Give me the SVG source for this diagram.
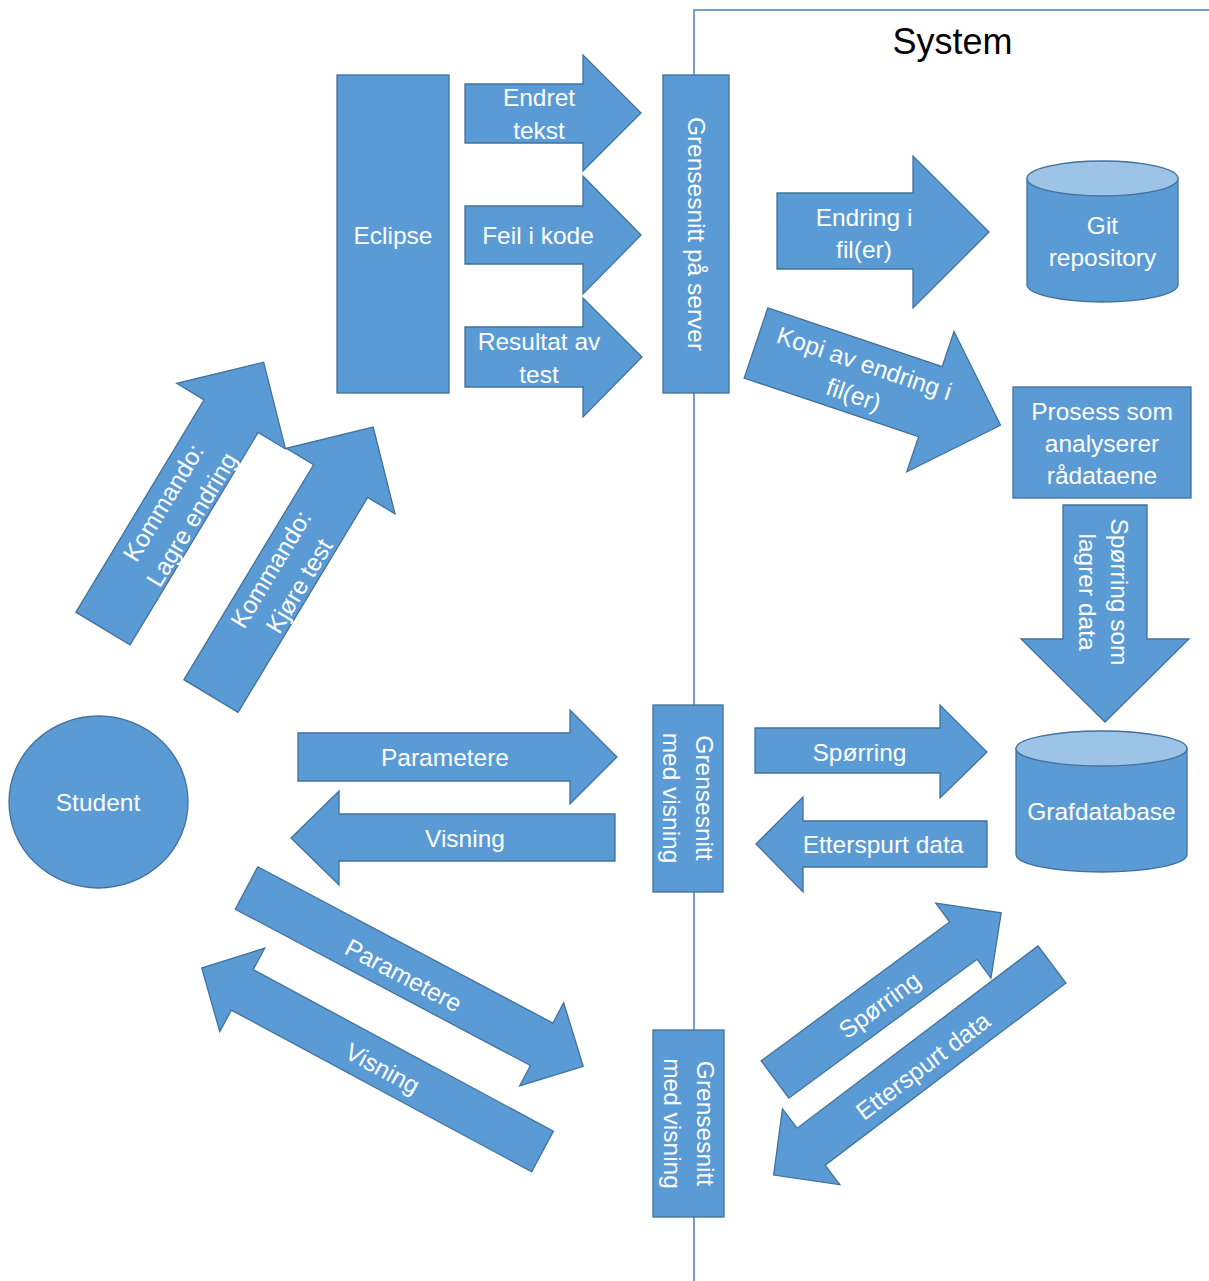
<svg xmlns="http://www.w3.org/2000/svg" width="1209" height="1281" viewBox="0 0 1209 1281">
  <style>
    .shape { fill: #5B9BD5; stroke: #41719C; stroke-width: 1.3; }
    .lid { fill: #9DC3E6; stroke: #41719C; stroke-width: 1.3; }
    .lbl { fill: #FFFFFF; font-family: "Liberation Sans", Arial, sans-serif; font-size: 24.5px; text-anchor: middle; }
    .title { fill: #000000; font-family: "Liberation Sans", Arial, sans-serif; font-size: 36px; text-anchor: middle; }
    .border { fill: none; stroke: #4A7EBB; stroke-width: 1.5; }
  </style>

  <!-- system boundary -->
  <g id="system-boundary">
    <polyline class="border" points="1209,10 694,10 694,1281"/>
    <text class="title" x="952.5" y="54">System</text>
  </g>

  <!-- flow arrows -->
  <g id="connectors">
    <!-- commands from student to Eclipse -->
    <g id="arrow-lagre" transform="translate(103,628.5) rotate(-58.9)">
      <path class="shape" d="M0,-31.6 L248,-31.6 L248,-63.5 L311,0 L248,63.5 L248,31.6 L0,31.6 Z"/>
    </g>
    <g transform="translate(177.5,511) rotate(-58.9)">
      <text class="lbl" x="0" y="-8">Kommando:</text>
      <text class="lbl" x="0" y="25">Lagre endring</text>
    </g>
    <g id="arrow-kjore" transform="translate(211,696) rotate(-58.9)">
      <path class="shape" d="M0,-31.6 L251,-31.6 L251,-63.5 L314,0 L251,63.5 L251,31.6 L0,31.6 Z"/>
    </g>
    <g transform="translate(285,577.5) rotate(-58.9)">
      <text class="lbl" x="0" y="-8">Kommando:</text>
      <text class="lbl" x="0" y="25">Kjøre test</text>
    </g>

    <!-- Eclipse to server interface -->
    <g id="arrow-endret">
      <path class="shape" d="M465,84 L583,84 L583,55 L641,113 L583,171 L583,143 L465,143 Z"/>
      <text class="lbl" x="539" y="106">Endret</text>
      <text class="lbl" x="539" y="139">tekst</text>
    </g>
    <g id="arrow-feil">
      <path class="shape" d="M465,206 L583,206 L583,176 L641,235 L583,294 L583,264 L465,264 Z"/>
      <text class="lbl" x="538" y="244">Feil i kode</text>
    </g>
    <g id="arrow-resultat">
      <path class="shape" d="M465,327 L583,327 L583,298 L642,357 L583,417 L583,387 L465,387 Z"/>
      <text class="lbl" x="539" y="350">Resultat av</text>
      <text class="lbl" x="539" y="383">test</text>
    </g>

    <!-- server interface to repository and analysis -->
    <g id="arrow-endring">
      <path class="shape" d="M777,193 L913,193 L913,156 L989,232 L913,308 L913,269 L777,269 Z"/>
      <text class="lbl" x="864" y="226">Endring i</text>
      <text class="lbl" x="864" y="258">fil(er)</text>
    </g>
    <g id="arrow-kopi" transform="translate(756,343) rotate(18.6)">
      <path class="shape" d="M0,-37 L184,-37 L184,-74 L258,0 L184,74 L184,37 L0,37 Z"/>
    </g>
    <g transform="translate(859,379) rotate(18.6)">
      <text class="lbl" x="0" y="-8">Kopi av endring i</text>
      <text class="lbl" x="0" y="25">fil(er)</text>
    </g>

    <!-- analysis to graph database -->
    <g id="arrow-lagrer">
      <path class="shape" d="M1063,505 L1147,505 L1147,639 L1189,639 L1105,722 L1021,639 L1063,639 Z"/>
      <g transform="translate(1103,592) rotate(90)">
        <text class="lbl" x="0" y="-8">Spørring som</text>
        <text class="lbl" x="0" y="24">lagrer data</text>
      </g>
    </g>

    <!-- student and middle interface -->
    <g id="arrow-parametere-1">
      <path class="shape" d="M298,733 L570,733 L570,710 L617,757 L570,804 L570,781 L298,781 Z"/>
      <text class="lbl" x="445" y="766">Parametere</text>
    </g>
    <g id="arrow-visning-1">
      <path class="shape" d="M615,814 L339,814 L339,791 L291,838 L339,885 L339,861 L615,861 Z"/>
      <text class="lbl" x="465" y="847">Visning</text>
    </g>

    <!-- middle interface and graph database -->
    <g id="arrow-sporring-1">
      <path class="shape" d="M755,728 L940,728 L940,705 L987,752 L940,798 L940,773 L755,773 Z"/>
      <text class="lbl" x="859.5" y="761">Spørring</text>
    </g>
    <g id="arrow-etterspurt-1">
      <path class="shape" d="M987,821 L803,821 L803,797 L756,844 L803,892 L803,867 L987,867 Z"/>
      <text class="lbl" x="883" y="853">Etterspurt data</text>
    </g>

    <!-- student and lower interface -->
    <g id="arrow-parametere-2" transform="translate(246.5,888) rotate(27.9)">
      <path class="shape" d="M0,-24 L334,-24 L334,-47 L381,0 L334,47 L334,24 L0,24 Z"/>
    </g>
    <g transform="translate(403.5,975.5) rotate(27.9)">
      <text class="lbl" x="0" y="8.5">Parametere</text>
    </g>
    <g id="arrow-visning-2" transform="translate(542.5,1151.5) rotate(208.3)">
      <path class="shape" d="M0,-23 L341,-23 L341,-47.4 L387,0 L341,47.4 L341,23 L0,23 Z"/>
    </g>
    <g transform="translate(382.5,1068.5) rotate(28.3)">
      <text class="lbl" x="0" y="8.5">Visning</text>
    </g>

    <!-- lower interface and graph database -->
    <g id="arrow-sporring-2" transform="translate(775,1079.5) rotate(-36.4)">
      <path class="shape" d="M0,-23.2 L234,-23.2 L234,-46.5 L281,0 L234,46.5 L234,23.2 L0,23.2 Z"/>
    </g>
    <g transform="translate(879.5,1005) rotate(-36.4)">
      <text class="lbl" x="0" y="8.5">Spørring</text>
    </g>
    <g id="arrow-etterspurt-2" transform="translate(1052,964.5) rotate(142.9)">
      <path class="shape" d="M0,-23.2 L302,-23.2 L302,-47.5 L349,0 L302,47.5 L302,23.2 L0,23.2 Z"/>
    </g>
    <g transform="translate(923,1066) rotate(-37.1)">
      <text class="lbl" x="0" y="8.5">Etterspurt data</text>
    </g>
  </g>

  <!-- nodes -->
  <g id="student">
    <ellipse class="shape" cx="98.5" cy="802" rx="89.5" ry="86"/>
    <text class="lbl" x="98" y="811">Student</text>
  </g>

  <g id="eclipse">
    <rect class="shape" x="337" y="75" width="112" height="318"/>
    <text class="lbl" x="393" y="244">Eclipse</text>
  </g>

  <g id="server-interface">
    <rect class="shape" x="663" y="75" width="66" height="318"/>
    <text class="lbl" transform="translate(696,234) rotate(90)" x="0" y="8.5">Grensesnitt på server</text>
  </g>

  <g id="view-interface-1">
    <rect class="shape" x="653" y="705" width="70" height="187"/>
    <g transform="translate(688,798) rotate(90)">
      <text class="lbl" x="0" y="-8">Grensesnitt</text>
      <text class="lbl" x="0" y="25">med visning</text>
    </g>
  </g>

  <g id="view-interface-2">
    <rect class="shape" x="653" y="1030" width="71" height="187"/>
    <g transform="translate(688.5,1123.5) rotate(90)">
      <text class="lbl" x="0" y="-8">Grensesnitt</text>
      <text class="lbl" x="0" y="25">med visning</text>
    </g>
  </g>

  <g id="git-repository">
    <path class="shape" d="M1027,178.5 L1027,284.5 A75.5,17.5 0 0 0 1178,284.5 L1178,178.5 Z"/>
    <ellipse class="lid" cx="1102.5" cy="178.5" rx="75.5" ry="17.5"/>
    <text class="lbl" x="1102.5" y="233.5">Git</text>
    <text class="lbl" x="1102.5" y="266">repository</text>
  </g>

  <g id="analysis-process">
    <rect class="shape" x="1013" y="387" width="178" height="111"/>
    <text class="lbl" x="1102" y="420">Prosess som</text>
    <text class="lbl" x="1102" y="452">analyserer</text>
    <text class="lbl" x="1102" y="484">rådataene</text>
  </g>

  <g id="graph-database">
    <path class="shape" d="M1016,748.5 L1016,854.5 A85.5,17.5 0 0 0 1187,854.5 L1187,748.5 Z"/>
    <ellipse class="lid" cx="1101.5" cy="748.5" rx="85.5" ry="17.5"/>
    <text class="lbl" x="1101.5" y="820">Grafdatabase</text>
  </g>
</svg>
